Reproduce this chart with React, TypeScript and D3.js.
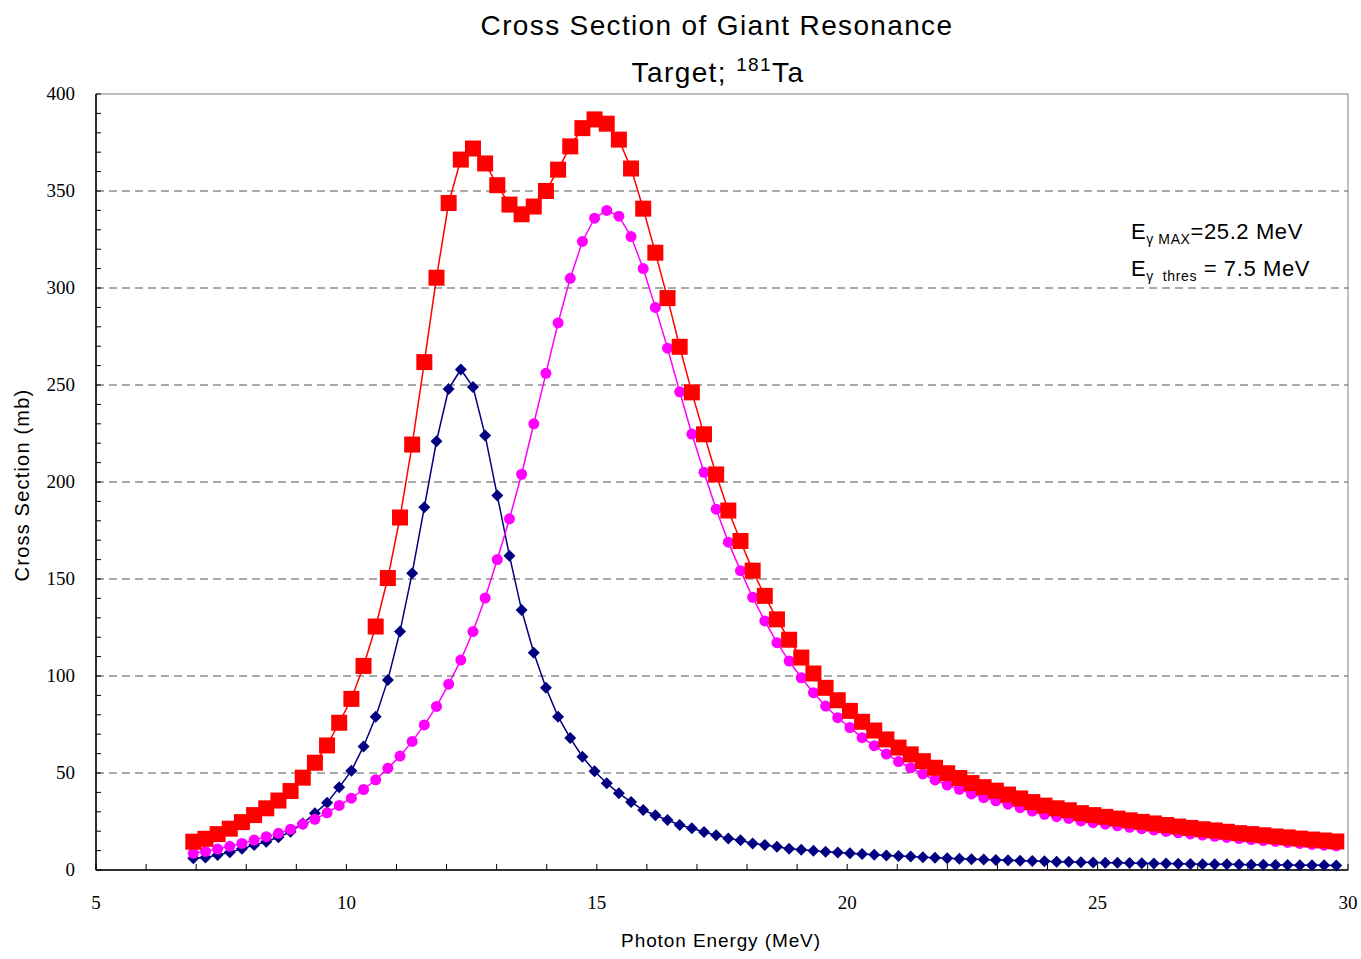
import React from 'react';
import * as d3 from 'd3';

// Photon energy grid (MeV): first point and spacing of the tabulated values
const ENERGY_START = 6.943;
const ENERGY_STEP = 0.2428;

// Lower resonance component (mb)
const lowerPeak = [
  6.0, 6.5, 7.7, 9.1, 11.0, 12.9, 14.6, 16.9, 19.7, 24.0,
  29.2, 34.7, 42.6, 51.2, 63.7, 79, 98, 123, 153, 187,
  221, 248, 258, 249, 224, 193, 162, 134, 112, 94,
  79, 68, 58.4, 50.9, 44.7, 39.5, 35.1, 30.9, 28.2, 25.8,
  23.2, 21.5, 19.6, 17.9, 16.3, 15.3, 13.7, 12.9, 12.0, 11.0,
  10.4, 9.9, 9.4, 9.0, 8.6, 8.2, 7.8, 7.5, 7.2, 6.9,
  6.6, 6.3, 6.1, 5.8, 5.6, 5.4, 5.2, 5.0, 4.8, 4.6,
  4.5, 4.3, 4.2, 4.0, 3.9, 3.8, 3.7, 3.6, 3.5, 3.4,
  3.3, 3.2, 3.1, 3.0, 2.95, 2.9, 2.8, 2.75, 2.7, 2.6,
  2.55, 2.5, 2.45, 2.4, 2.3,
];

// Upper resonance component (mb)
const upperPeak = [
  8.6, 9.6, 10.8, 12.2, 13.7, 15.4, 17.2, 18.9, 21.0, 23.6,
  26.1, 29.5, 33.3, 37.0, 41.5, 46.5, 52.5, 58.7, 66.3, 74.8,
  84.3, 95.8, 108.2, 122.9, 140.2, 160, 181, 204, 230, 256,
  282, 305, 324, 336, 340, 337, 326.5, 310, 290, 269,
  246.5, 224.7, 205, 186, 169, 154.3, 140.6, 128.4, 117.2, 107.7,
  99.1, 91.4, 84.5, 78.5, 73.4, 68.2, 64.1, 59.8, 55.9, 52.7,
  49.5, 46.4, 43.8, 41.6, 39.2, 37.3, 35.7, 33.9, 32.1, 30.4,
  28.7, 27.5, 26.6, 25.3, 24.4, 23.6, 22.8, 22.0, 21.3, 20.6,
  19.9, 19.2, 18.6, 18.0, 17.4, 16.8, 16.2, 15.7, 15.2, 14.7,
  14.2, 13.7, 13.2, 12.8, 12.4,
];

// Total cross section (mb)
const totalSection = [
  14.6, 16.1, 18.5, 21.3, 24.7, 28.3, 31.8, 35.8, 40.7, 47.6,
  55.3, 64.2, 75.9, 88.2, 105.2, 125.5, 150.5, 181.7, 219.3, 261.8,
  305.3, 343.8, 366.2, 371.9, 364.2, 353, 343, 338, 342, 350,
  361, 373, 382.4, 386.9, 384.7, 376.5, 361.6, 340.9, 318.2, 294.8,
  269.7, 246.2, 224.6, 203.9, 185.3, 169.6, 154.3, 141.3, 129.2, 118.7,
  109.5, 101.3, 93.9, 87.5, 82.0, 76.4, 71.9, 67.3, 63.1, 59.6,
  56.1, 52.7, 49.9, 47.4, 44.8, 42.7, 40.9, 38.9, 36.9, 35.0,
  33.2, 31.8, 30.8, 29.3, 28.3, 27.4, 26.5, 25.6, 24.8, 24.0,
  23.2, 22.4, 21.7, 21.0, 20.4, 19.7, 19.0, 18.5, 17.9, 17.3,
  16.8, 16.2, 15.7, 15.2, 14.7,
];

const xTickLabels = [5, 10, 15, 20, 25, 30];
const yTickLabels = [0, 50, 100, 150, 200, 250, 300, 350, 400];

const WIDTH = 1361;
const HEIGHT = 959;
const PLOT = { left: 96, right: 1348, top: 94, bottom: 870 };

const SANS = '"Liberation Sans", Arial, sans-serif';
const SERIF = '"Liberation Serif", "Times New Roman", serif';

export default function App() {
  const energies = lowerPeak.map((_, i) => ENERGY_START + i * ENERGY_STEP);

  const x = d3.scaleLinear().domain([5, 30]).range([PLOT.left, PLOT.right]);
  const y = d3.scaleLinear().domain([0, 400]).range([PLOT.bottom, PLOT.top]);

  const line = (vals: number[]) =>
    d3
      .line<number>()
      .x((_, i) => x(energies[i]))
      .y((v) => y(v))(vals) as string;

  const minorX = d3.range(5, 31, 1);
  const minorY = d3.range(0, 401, 10);

  return (
    <svg
      width={WIDTH}
      height={HEIGHT}
      style={{ position: 'absolute', left: 0, top: 0, background: '#fff' }}
    >
      <rect x={0} y={0} width={WIDTH} height={HEIGHT} fill="#fff" />

      {/* Title */}
      <text x={717} y={35} textAnchor="middle" fontFamily={SANS} fontSize={28} letterSpacing={1.35} fill="#000">
        Cross Section of Giant Resonance
      </text>
      <text x={718} y={82} textAnchor="middle" fontFamily={SANS} fontSize={28} letterSpacing={1.4} fill="#000">
        Target;{' '}
        <tspan fontSize={19} dy={-11}>181</tspan>
        <tspan dy={11}>Ta</tspan>
      </text>

      {/* Plot frame */}
      <rect
        x={PLOT.left}
        y={PLOT.top}
        width={PLOT.right - PLOT.left}
        height={PLOT.bottom - PLOT.top}
        fill="none"
        stroke="#808080"
        strokeWidth={1}
      />

      {/* Horizontal dashed grid */}
      {yTickLabels
        .filter((v) => v > 0 && v < 400)
        .map((v) => (
          <line
            key={'g' + v}
            x1={PLOT.left}
            x2={PLOT.right}
            y1={y(v)}
            y2={y(v)}
            stroke="#555"
            strokeWidth={1}
            strokeDasharray="8,5"
          />
        ))}

      {/* Axes */}
      <line x1={PLOT.left} x2={PLOT.left} y1={PLOT.top} y2={PLOT.bottom} stroke="#000" strokeWidth={1.5} />
      <line x1={PLOT.left} x2={PLOT.right} y1={PLOT.bottom} y2={PLOT.bottom} stroke="#000" strokeWidth={1.5} />

      {minorX.map((v) => (
        <line key={'mx' + v} x1={x(v)} x2={x(v)} y1={PLOT.bottom} y2={PLOT.bottom - 6} stroke="#000" strokeWidth={1} />
      ))}
      {minorY.map((v) => (
        <line key={'my' + v} x1={PLOT.left} x2={PLOT.left + 5} y1={y(v)} y2={y(v)} stroke="#000" strokeWidth={1} />
      ))}

      {xTickLabels.map((v) => (
        <text key={'xl' + v} x={x(v)} y={909} textAnchor="middle" fontFamily={SERIF} fontSize={19} fill="#000">
          {v}
        </text>
      ))}
      {yTickLabels.map((v) => (
        <text key={'yl' + v} x={75} y={y(v) + 6} textAnchor="end" fontFamily={SERIF} fontSize={19} fill="#000">
          {v}
        </text>
      ))}

      {/* Axis titles */}
      <text x={721} y={947} textAnchor="middle" fontFamily={SANS} fontSize={19} letterSpacing={0.9} fill="#000">
        Photon Energy (MeV)
      </text>
      <text
        transform={`translate(29, ${(PLOT.top + PLOT.bottom) / 2 + 3}) rotate(-90)`}
        textAnchor="middle"
        fontFamily={SANS}
        fontSize={20}
        letterSpacing={1.2}
        fill="#000"
      >
        Cross Section (mb)
      </text>

      {/* Lower resonance: navy diamonds */}
      <path d={line(lowerPeak)} fill="none" stroke="#000080" strokeWidth={1.5} />
      {lowerPeak.map((v, i) => {
        const cx = x(energies[i]);
        const cy = y(v);
        const r = 6;
        return (
          <path
            key={'d' + i}
            d={`M${cx},${cy - r}L${cx + r},${cy}L${cx},${cy + r}L${cx - r},${cy}Z`}
            fill="#000080"
          />
        );
      })}

      {/* Upper resonance: magenta circles */}
      <path d={line(upperPeak)} fill="none" stroke="#FF00FF" strokeWidth={1.5} />
      {upperPeak.map((v, i) => (
        <circle key={'c' + i} cx={x(energies[i])} cy={y(v)} r={5.5} fill="#FF00FF" />
      ))}

      {/* Total: red squares */}
      <path d={line(totalSection)} fill="none" stroke="#FF0000" strokeWidth={1.5} />
      {totalSection.map((v, i) => (
        <rect key={'s' + i} x={x(energies[i]) - 8} y={y(v) - 8} width={16} height={16} fill="#FF0000" />
      ))}

      {/* Beam annotations */}
      <text x={1131} y={239} fontFamily={SANS} fontSize={22} letterSpacing={0.6} fill="#000">
        E<tspan fontSize={14} dy={5}>γ MAX</tspan>
        <tspan dy={-5}>=25.2 MeV</tspan>
      </text>
      <text x={1131} y={276} fontFamily={SANS} fontSize={22} letterSpacing={0.6} fill="#000" xmlSpace="preserve">
        E<tspan fontSize={14} dy={5}>γ  thres</tspan>
        <tspan dy={-5}> = 7.5 MeV</tspan>
      </text>
    </svg>
  );
}
